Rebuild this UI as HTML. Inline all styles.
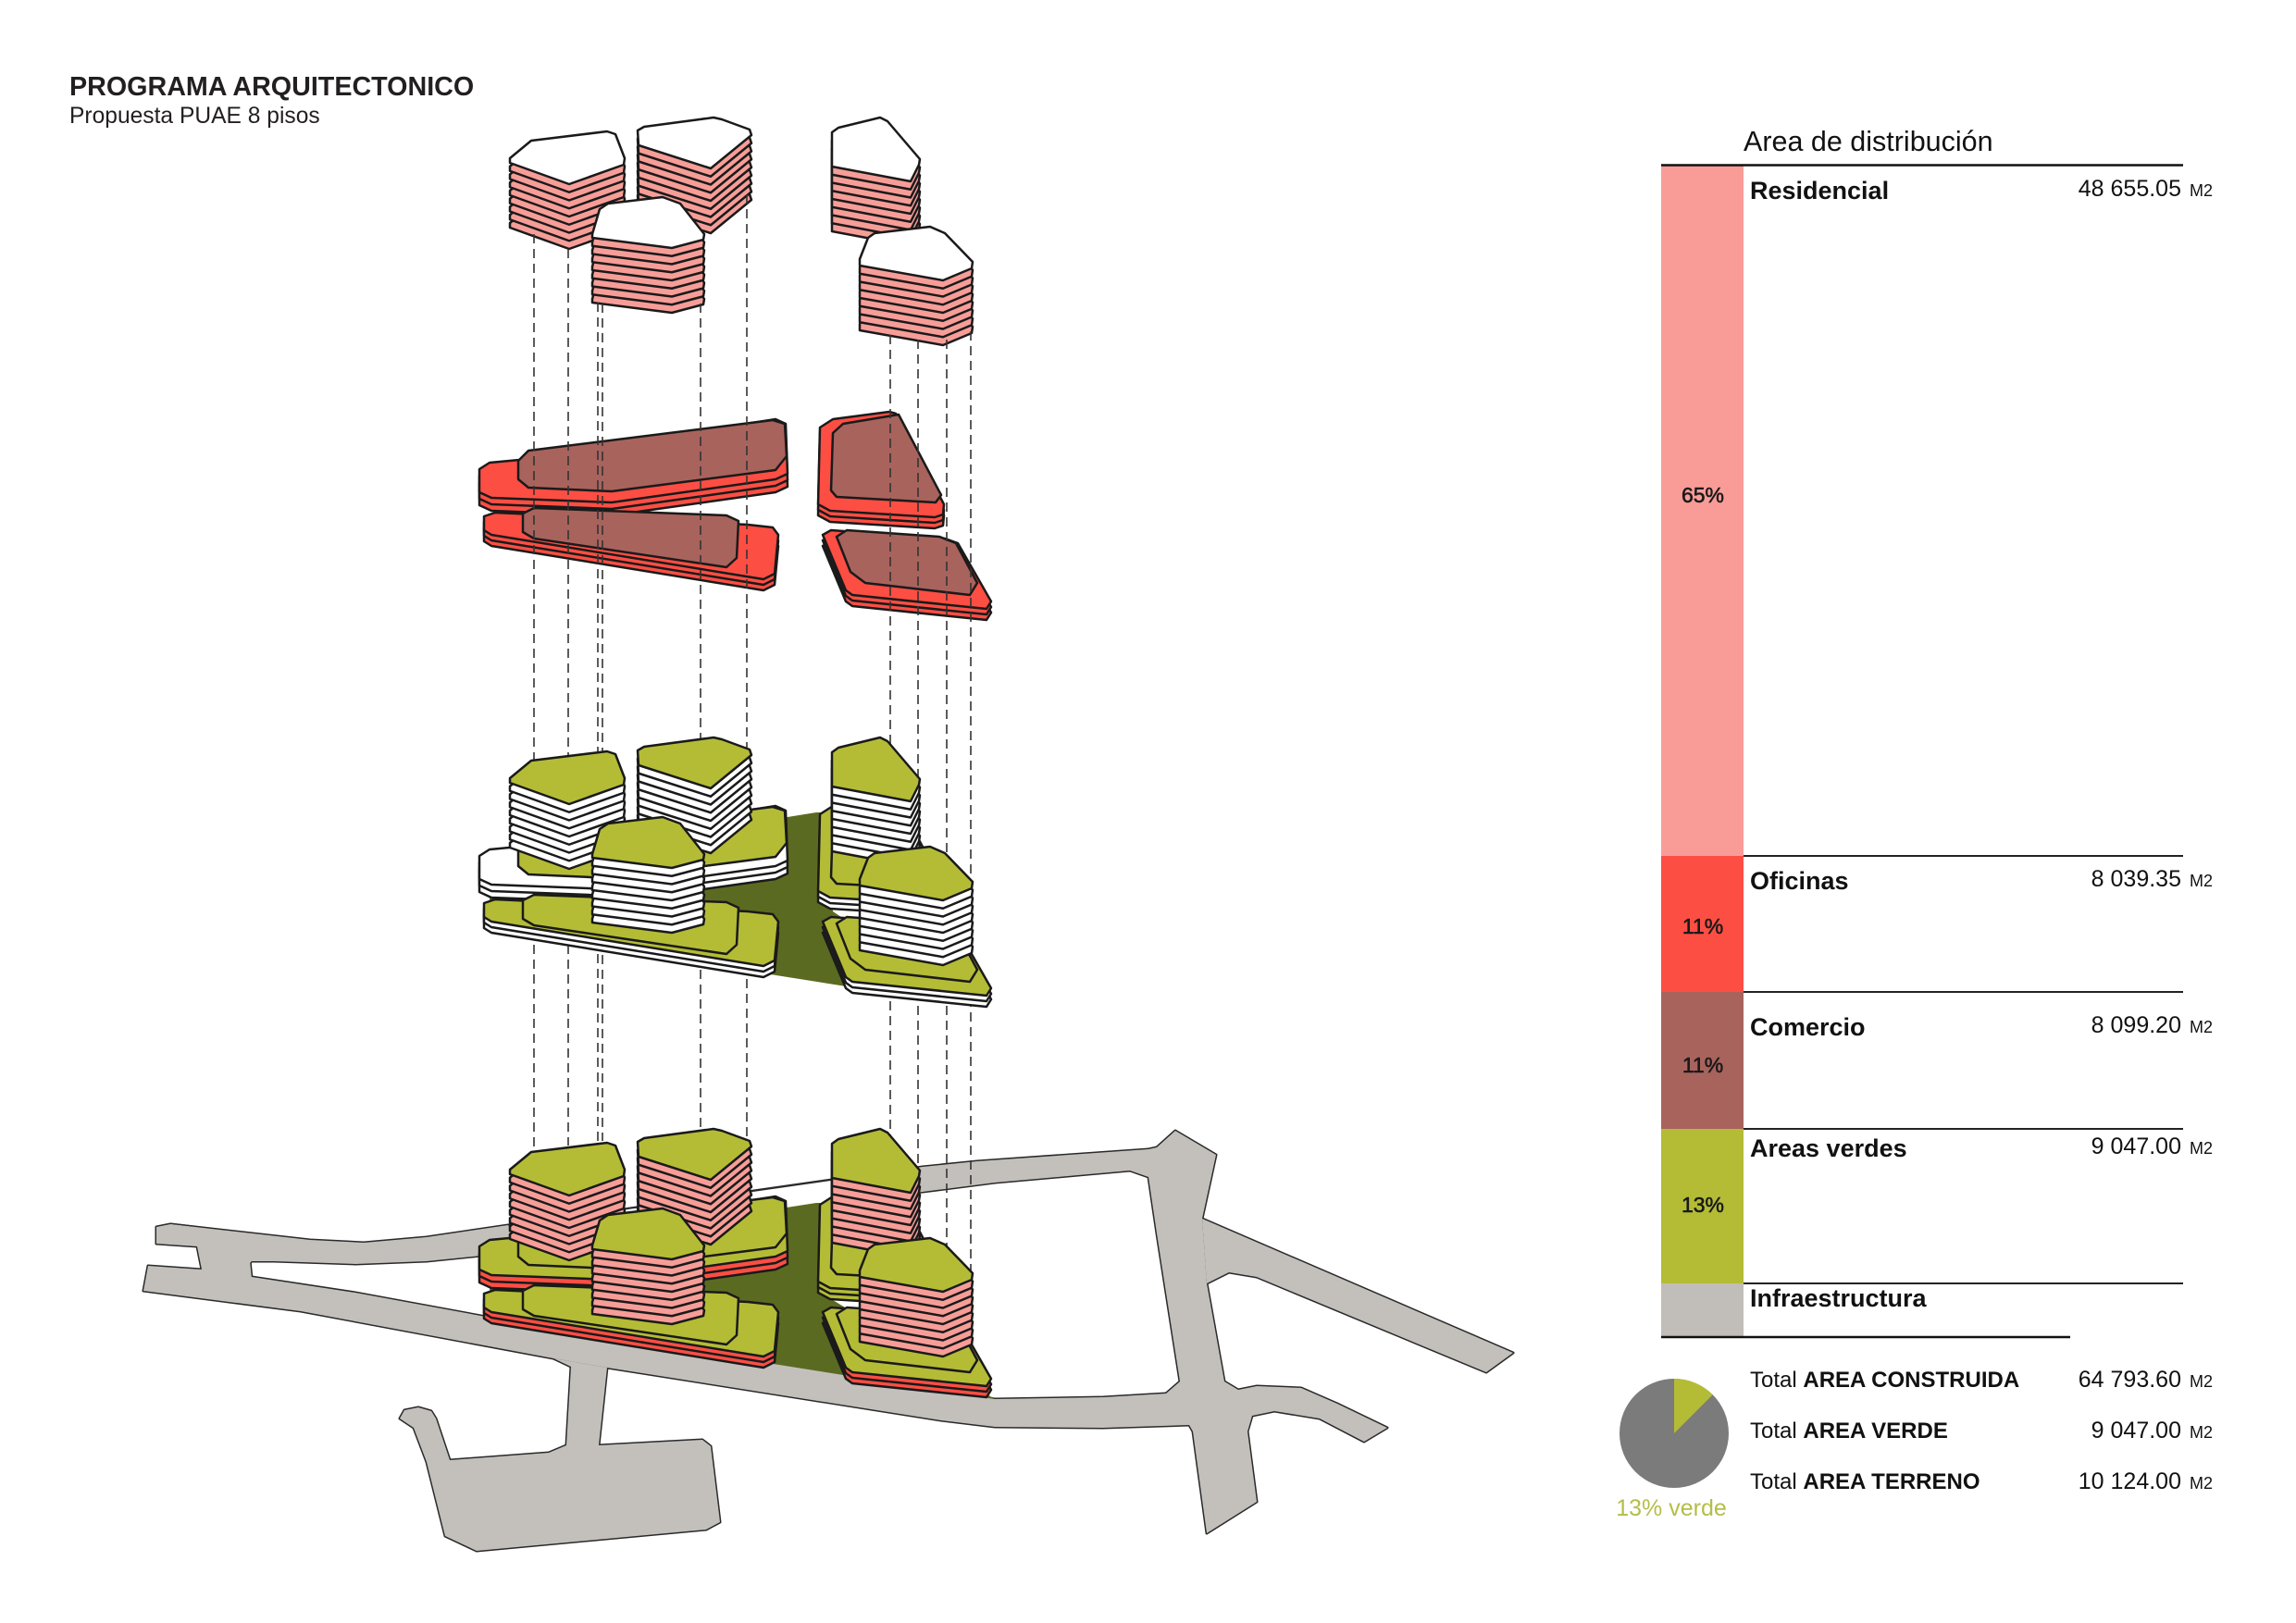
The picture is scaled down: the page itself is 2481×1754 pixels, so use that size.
<!DOCTYPE html>
<html><head><meta charset="utf-8"><style>
html,body{margin:0;padding:0;background:#fff;}
svg{display:block;}
text{font-family:"Liberation Sans",Arial,sans-serif;}
</style></head><body>
<svg xmlns="http://www.w3.org/2000/svg" width="2481" height="1754" viewBox="0 0 2481 1754">
<defs>
<!-- roads -->
<polygon id="P1" points="184,1323 335,1340 393,1343 461,1337 549,1324 724,1300 997,1261 1056,1255 1241,1242 1260,1243 1250,1270 1221,1265 1075,1278 997,1288 724,1327 520,1357 461,1363 384,1366 296,1363 272,1363 265,1370"/>
<polygon id="P2" points="184,1323 267,1333 272,1382 155,1395 160,1368 218,1372 213,1347 169,1344 169,1326"/>
<polygon id="P3" points="272,1380 384,1397 525,1423 1075,1512 1192,1510 1260,1506 1338,1502 1358,1498 1406,1500 1445,1517 1499,1543 1474,1558 1426,1533 1377,1525 1353,1530 1285,1540 1192,1543 1075,1542 1017,1535 656,1478 598,1468 325,1417 155,1395 160,1382"/>
<polygon id="P4" points="1221,1265 1241,1272 1250,1333 1275,1493 1260,1506 1285,1540 1289,1547 1304,1657 1358,1623 1348,1547 1353,1530 1338,1502 1323,1493 1304,1387 1299,1317 1314,1248 1270,1222 1250,1240 1241,1242"/>
<polygon id="P5" points="1299,1317 1635,1462 1606,1483 1358,1380 1328,1375 1304,1387"/>
<polygon id="P6" points="598,1468 656,1478 647,1562 759,1556 768,1563 778,1645 763,1653 515,1676 481,1660 461,1580 447,1543 432,1533 437,1524 452,1521 466,1525 471,1533 486,1578 593,1570 612,1562 617,1477"/>
<!-- tower caps (top level coords) -->
<polygon id="tA" points="551,171 574,152 656,142 665,145 675,171 674,178 615,199 551,176"/>
<polygon id="tB" points="689,141 696,137 771,127 780,129 810,140 812,146 768,182 690,157"/>
<polygon id="tC" points="640,253 648,226 657,220 716,213 735,220 761,253 760,259 726,268 640,257"/>
<polygon id="tD" points="899,143 906,138 951,127 959,131 994,172 993,178 984,196 899,180"/>
<polygon id="tE" points="929,280 938,257 945,252 1005,245 1021,252 1051,283 1050,290 1019,303 929,287"/>
<g id="fA"><use href="#tA" y="70"/><use href="#tA" y="61.25"/><use href="#tA" y="52.5"/><use href="#tA" y="43.75"/><use href="#tA" y="35"/><use href="#tA" y="26.25"/><use href="#tA" y="17.5"/><use href="#tA" y="8.75"/></g>
<g id="fB"><use href="#tB" y="70"/><use href="#tB" y="61.25"/><use href="#tB" y="52.5"/><use href="#tB" y="43.75"/><use href="#tB" y="35"/><use href="#tB" y="26.25"/><use href="#tB" y="17.5"/><use href="#tB" y="8.75"/></g>
<g id="fC"><use href="#tC" y="70"/><use href="#tC" y="61.25"/><use href="#tC" y="52.5"/><use href="#tC" y="43.75"/><use href="#tC" y="35"/><use href="#tC" y="26.25"/><use href="#tC" y="17.5"/><use href="#tC" y="8.75"/></g>
<g id="fD"><use href="#tD" y="70"/><use href="#tD" y="61.25"/><use href="#tD" y="52.5"/><use href="#tD" y="43.75"/><use href="#tD" y="35"/><use href="#tD" y="26.25"/><use href="#tD" y="17.5"/><use href="#tD" y="8.75"/></g>
<g id="fE"><use href="#tE" y="70"/><use href="#tE" y="61.25"/><use href="#tE" y="52.5"/><use href="#tE" y="43.75"/><use href="#tE" y="35"/><use href="#tE" y="26.25"/><use href="#tE" y="17.5"/><use href="#tE" y="8.75"/></g>
<!-- slabs (commercial level coords) -->
<polygon id="R1" points="518,507 529,500 561,497 838,453 849,458 851,512 838,518 661,543 531,538 518,532"/>
<polygon id="B1" points="560,498 571,487 835,454 848,458 850,493 838,508 661,531 571,527 560,518"/>
<polygon id="R2" points="523,558 535,554 808,567 835,570 841,578 837,620 825,626 531,578 523,573"/>
<polygon id="B2" points="565,555 577,549 785,557 798,563 796,603 785,613 577,582 565,575"/>
<polygon id="R3" points="886,462 900,453 961,445 968,447 1020,545 1019,556 1010,559 897,552 884,545"/>
<polygon id="B3" points="898,530 900,468 911,458 971,448 1017,535 1011,543 904,537"/>
<polygon id="R4" points="889,578 898,573 1021,582 1035,587 1071,650 1066,658 921,643 914,638"/>
<polygon id="B4" points="904,580 915,573 1015,580 1033,587 1056,630 1048,643 935,630 919,618"/>
</defs>

<rect width="2481" height="1754" fill="#fff"/>

<!-- ROADS -->
<g fill="none" stroke="#2a2a2a" stroke-width="3" stroke-linejoin="round">
<use href="#P1"/><use href="#P2"/><use href="#P3"/><use href="#P4"/><use href="#P5"/><use href="#P6"/>
</g>
<g fill="#c3c0bc" stroke="none">
<use href="#P1"/><use href="#P2"/><use href="#P3"/><use href="#P4"/><use href="#P5"/><use href="#P6"/>
</g>
<!-- site white cover + edge line -->
<polygon points="560,1320 724,1300 990,1262 993,1300 1075,1510 560,1428" fill="#fff"/>
<polyline points="549,1324 724,1300 990,1262" fill="none" stroke="#2a2a2a" stroke-width="1.6"/>
<!-- bottom parcel -->
<polygon points="528,1355 882,1300 890,1300 900,1405 1075,1512 823,1472 530,1425" fill="#5b6a21"/>

<!-- TOP LEVEL TOWERS -->
<g stroke="#1a1a1a" stroke-width="2.5" stroke-linejoin="round">
<use href="#fA" fill="#f79d98"/><use href="#tA" fill="#fff"/>
<use href="#fB" fill="#f79d98"/><use href="#tB" fill="#fff"/>
<use href="#fC" fill="#f79d98"/><use href="#tC" fill="#fff"/>
<use href="#fD" fill="#f79d98"/><use href="#tD" fill="#fff"/>
<use href="#fE" fill="#f79d98"/><use href="#tE" fill="#fff"/>
</g>

<!-- COMMERCIAL LEVEL -->
<g stroke="#1a1a1a" stroke-width="2.5" stroke-linejoin="round">
<use href="#R1" y="14" fill="#fd4e44"/><use href="#R1" y="7" fill="#fd4e44"/><use href="#R1" fill="#fd4e44"/><use href="#B1" fill="#a8635d"/>
<use href="#R3" y="12" fill="#fd4e44"/><use href="#R3" y="6" fill="#fd4e44"/><use href="#R3" fill="#fd4e44"/><use href="#B3" fill="#a8635d"/>
<use href="#R2" y="12" fill="#fd4e44"/><use href="#R2" y="6" fill="#fd4e44"/><use href="#R2" fill="#fd4e44"/><use href="#B2" fill="#a8635d"/>
<use href="#R4" y="12" fill="#fd4e44"/><use href="#R4" y="6" fill="#fd4e44"/><use href="#R4" fill="#fd4e44"/><use href="#B4" fill="#a8635d"/>
</g>

<!-- DASHED PROJECTION LINES -->
<g stroke="#333" stroke-width="1.6" stroke-dasharray="10 6" fill="none">
<line x1="577" y1="253" x2="577" y2="1243"/>
<line x1="614" y1="269" x2="614" y2="1238"/>
<line x1="646" y1="327" x2="646" y2="1277"/>
<line x1="651" y1="328" x2="651" y2="1233"/>
<line x1="757" y1="328" x2="757" y2="1277"/>
<line x1="807" y1="210" x2="807" y2="1230"/>
<line x1="962" y1="362" x2="962" y2="1230"/>
<line x1="992" y1="367" x2="992" y2="1263"/>
<line x1="1023" y1="367" x2="1023" y2="1347"/>
<line x1="1049" y1="358" x2="1049" y2="1380"/>
</g>

<!-- GREEN LEVEL -->
<polygon points="528,935 882,878 890,878 900,985 1040,1080 927,1068 530,1005" fill="#5b6a21"/>
<g stroke="#1a1a1a" stroke-width="2.5" stroke-linejoin="round">
<g transform="translate(0,418)">
<use href="#R1" y="14" fill="#fff"/><use href="#R1" y="7" fill="#fff"/><use href="#R1" fill="#fff"/><use href="#B1" fill="#b4bc36"/>
</g>
<g transform="translate(0,670)">
<use href="#fA" fill="#fff"/><use href="#tA" fill="#b4bc36"/>
<use href="#fB" fill="#fff"/><use href="#tB" fill="#b4bc36"/>
</g>
<g transform="translate(0,418)">
<use href="#R2" y="12" fill="#fff"/><use href="#R2" y="6" fill="#fff"/><use href="#R2" fill="#b4bc36"/><use href="#B2" fill="#b4bc36"/>
</g>
<g transform="translate(0,670)">
<use href="#fC" fill="#fff"/><use href="#tC" fill="#b4bc36"/>
</g>
<g transform="translate(0,418)">
<use href="#R3" y="12" fill="#fff"/><use href="#R3" y="6" fill="#fff"/><use href="#R3" fill="#b4bc36"/><use href="#B3" fill="#b4bc36"/>
</g>
<g transform="translate(0,670)">
<use href="#fD" fill="#fff"/><use href="#tD" fill="#b4bc36"/>
</g>
<g transform="translate(0,418)">
<use href="#R4" y="12" fill="#fff"/><use href="#R4" y="6" fill="#fff"/><use href="#R4" fill="#b4bc36"/><use href="#B4" fill="#b4bc36"/>
</g>
<g transform="translate(0,670)">
<use href="#fE" fill="#fff"/><use href="#tE" fill="#b4bc36"/>
</g>
</g>

<!-- BOTTOM LEVEL -->
<g stroke="#1a1a1a" stroke-width="2.5" stroke-linejoin="round">
<g transform="translate(0,840)">
<use href="#R1" y="14" fill="#fd4e44"/><use href="#R1" y="7" fill="#fd4e44"/><use href="#R1" fill="#b4bc36"/><use href="#B1" fill="#b4bc36"/>
</g>
<g transform="translate(0,1093)">
<use href="#fA" fill="#f79d98"/><use href="#tA" fill="#b4bc36"/>
<use href="#fB" fill="#f79d98"/><use href="#tB" fill="#b4bc36"/>
</g>
<g transform="translate(0,840)">
<use href="#R2" y="12" fill="#fd4e44"/><use href="#R2" y="6" fill="#fd4e44"/><use href="#R2" fill="#b4bc36"/><use href="#B2" fill="#b4bc36"/>
</g>
<g transform="translate(0,1093)">
<use href="#fC" fill="#f79d98"/><use href="#tC" fill="#b4bc36"/>
</g>
<g transform="translate(0,840)">
<use href="#R3" y="12" fill="#b4bc36"/><use href="#R3" y="6" fill="#b4bc36"/><use href="#R3" fill="#b4bc36"/><use href="#B3" fill="#b4bc36"/>
</g>
<g transform="translate(0,1093)">
<use href="#fD" fill="#f79d98"/><use href="#tD" fill="#b4bc36"/>
</g>
<g transform="translate(0,840)">
<use href="#R4" y="12" fill="#fd4e44"/><use href="#R4" y="6" fill="#fd4e44"/><use href="#R4" fill="#b4bc36"/><use href="#B4" fill="#b4bc36"/>
</g>
<g transform="translate(0,1093)">
<use href="#fE" fill="#f79d98"/><use href="#tE" fill="#b4bc36"/>
</g>
</g>

<!-- TITLE -->
<text x="75" y="103" font-size="28.7" font-weight="bold" fill="#231f20">PROGRAMA ARQUITECTONICO</text>
<text x="75" y="133" font-size="24.6" fill="#231f20">Propuesta PUAE 8 pisos</text>

<!-- RIGHT PANEL -->
<text x="1884" y="163" font-size="30.5" fill="#111">Area de distribución</text>
<rect x="1795" y="179" width="89" height="746" fill="#f99c98"/>
<rect x="1795" y="925" width="89" height="147" fill="#fd4e44"/>
<rect x="1795" y="1072" width="89" height="148" fill="#a8635d"/>
<rect x="1795" y="1220" width="89" height="167" fill="#b4bc36"/>
<rect x="1795" y="1387" width="89" height="58" fill="#c1bdb9"/>
<line x1="1795" y1="178.5" x2="2359" y2="178.5" stroke="#111" stroke-width="2.5"/>
<g stroke="#222" stroke-width="2">
<line x1="1884" y1="925" x2="2359" y2="925"/>
<line x1="1884" y1="1072" x2="2359" y2="1072"/>
<line x1="1884" y1="1220" x2="2359" y2="1220"/>
<line x1="1884" y1="1387" x2="2359" y2="1387"/>
</g>
<line x1="1795" y1="1445" x2="2237" y2="1445" stroke="#111" stroke-width="2.5"/>

<g font-size="27" font-weight="bold" fill="#111">
<text x="1891" y="215">Residencial</text>
<text x="1891" y="961">Oficinas</text>
<text x="1891" y="1119">Comercio</text>
<text x="1891" y="1250">Areas verdes</text>
<text x="1891" y="1412">Infraestructura</text>
</g>
<g font-size="25" fill="#111" text-anchor="end">
<text x="2391" y="212">48 655.05<tspan dx="9" font-size="18">M2</tspan></text>
<text x="2391" y="958">8 039.35<tspan dx="9" font-size="18">M2</tspan></text>
<text x="2391" y="1116">8 099.20<tspan dx="9" font-size="18">M2</tspan></text>
<text x="2391" y="1247">9 047.00<tspan dx="9" font-size="18">M2</tspan></text>
</g>
<g font-size="23" fill="#1a1a1a" stroke="#1a1a1a" stroke-width="0.6" text-anchor="middle">
<text x="1840" y="543">65%</text>
<text x="1840" y="1009">11%</text>
<text x="1840" y="1159">11%</text>
<text x="1840" y="1310">13%</text>
</g>

<!-- PIE -->
<circle cx="1809" cy="1549" r="59" fill="#7b7b7b"/>
<path d="M1809,1549 L1809,1490 A59,59 0 0,1 1850.7,1507.3 Z" fill="#b4bc36"/>
<text x="1806" y="1638" font-size="25" fill="#b5bd4a" text-anchor="middle">13% verde</text>

<!-- TOTALS -->
<g font-size="24" fill="#111">
<text x="1891" y="1499">Total <tspan font-weight="bold">AREA CONSTRUIDA</tspan></text>
<text x="1891" y="1554">Total <tspan font-weight="bold">AREA VERDE</tspan></text>
<text x="1891" y="1609">Total <tspan font-weight="bold">AREA TERRENO</tspan></text>
</g>
<g font-size="25" fill="#111" text-anchor="end">
<text x="2391" y="1499">64 793.60<tspan dx="9" font-size="18">M2</tspan></text>
<text x="2391" y="1554">9 047.00<tspan dx="9" font-size="18">M2</tspan></text>
<text x="2391" y="1609">10 124.00<tspan dx="9" font-size="18">M2</tspan></text>
</g>
</svg>
</body></html>
